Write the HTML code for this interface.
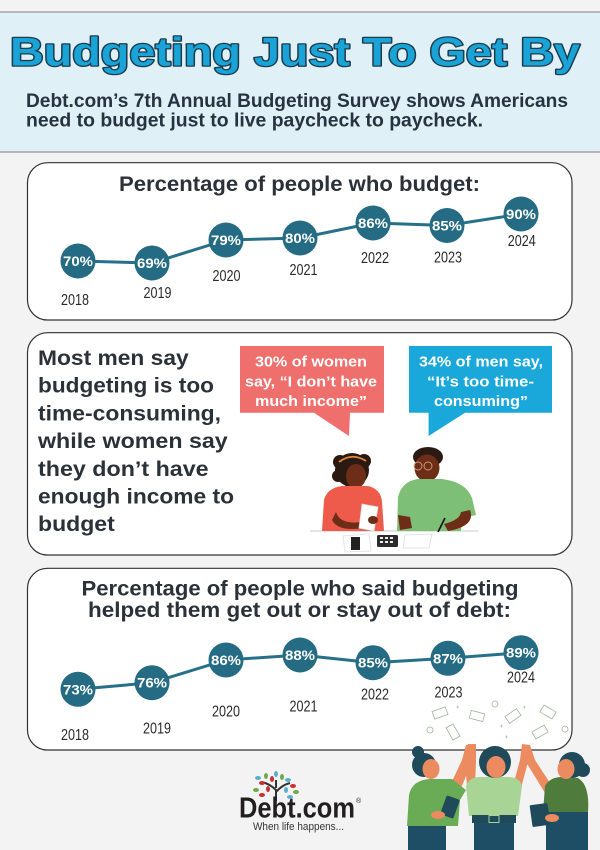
<!DOCTYPE html>
<html><head><meta charset="utf-8"><style>
html,body{margin:0;padding:0;background:#f3f3f3;}
svg{display:block;}
text{font-family:"Liberation Sans",sans-serif;}
</style></head><body>
<svg width="600" height="850" viewBox="0 0 600 850" xmlns="http://www.w3.org/2000/svg">
<rect x="0" y="0" width="600" height="850" fill="#f3f3f3"/>
<!-- header -->
<rect x="0" y="12" width="600" height="140" fill="#dff0f7"/>
<line x1="0" y1="12" x2="600" y2="12" stroke="#a3a3a3" stroke-width="1.5"/>
<line x1="0" y1="152" x2="600" y2="152" stroke="#a3a3a3" stroke-width="1.5"/>
<text x="10" y="65.5" font-size="40" font-weight="bold" textLength="570" lengthAdjust="spacingAndGlyphs" fill="#1aa3d6" stroke="#1c3b4c" stroke-width="2.6" stroke-linejoin="round" paint-order="stroke">Budgeting Just To Get By</text>
<text x="26" y="107" font-size="19" font-weight="bold" fill="#263340" textLength="542" lengthAdjust="spacingAndGlyphs">Debt.com’s 7th Annual Budgeting Survey shows Americans</text>
<text x="26" y="126.5" font-size="19" font-weight="bold" fill="#263340" textLength="457" lengthAdjust="spacingAndGlyphs">need to budget just to live paycheck to paycheck.</text>

<!-- card 1 -->
<rect x="27.5" y="162.7" width="544.5" height="157.3" rx="20" fill="#fff" stroke="#333" stroke-width="1.2"/>
<text x="119" y="191" font-size="21" font-weight="bold" fill="#2b3138" textLength="361" lengthAdjust="spacingAndGlyphs">Percentage of people who budget:</text>
<polyline points="78,261 152,263 226,240 300,238 373,223 447,225.5 521,214" fill="none" stroke="#26708a" stroke-width="3"/>
<g fill="#246b83">
<circle cx="78" cy="261" r="17.5"/><circle cx="152" cy="263" r="17.5"/><circle cx="226" cy="240" r="17.5"/><circle cx="300" cy="238" r="17.5"/><circle cx="373" cy="223" r="17.5"/><circle cx="447" cy="225.5" r="17.5"/><circle cx="521" cy="214" r="17.5"/>
</g>
<g fill="#fff" font-size="14" font-weight="bold" text-anchor="middle">
<text x="78" y="266" textLength="30" lengthAdjust="spacingAndGlyphs">70%</text>
<text x="152" y="268" textLength="30" lengthAdjust="spacingAndGlyphs">69%</text>
<text x="226" y="245" textLength="30" lengthAdjust="spacingAndGlyphs">79%</text>
<text x="300" y="243" textLength="30" lengthAdjust="spacingAndGlyphs">80%</text>
<text x="373" y="228" textLength="30" lengthAdjust="spacingAndGlyphs">86%</text>
<text x="447" y="230.5" textLength="30" lengthAdjust="spacingAndGlyphs">85%</text>
<text x="521" y="219" textLength="30" lengthAdjust="spacingAndGlyphs">90%</text>
</g>
<g fill="#2a2a2a" font-size="16" text-anchor="middle">
<text x="75" y="305" textLength="28" lengthAdjust="spacingAndGlyphs">2018</text>
<text x="157.5" y="298" textLength="28" lengthAdjust="spacingAndGlyphs">2019</text>
<text x="226.5" y="281" textLength="28" lengthAdjust="spacingAndGlyphs">2020</text>
<text x="303.5" y="275" textLength="28" lengthAdjust="spacingAndGlyphs">2021</text>
<text x="375" y="263" textLength="28" lengthAdjust="spacingAndGlyphs">2022</text>
<text x="448" y="262.7" textLength="28" lengthAdjust="spacingAndGlyphs">2023</text>
<text x="521.7" y="246" textLength="28" lengthAdjust="spacingAndGlyphs">2024</text>
</g>

<!-- card 2 -->
<rect x="27.5" y="332.7" width="544.5" height="222.3" rx="20" fill="#fff" stroke="#333" stroke-width="1.2"/>
<g fill="#2b3138" font-size="21" font-weight="bold">
<text x="38" y="365" textLength="150.7" lengthAdjust="spacingAndGlyphs">Most men say</text>
<text x="38" y="392.7" textLength="176" lengthAdjust="spacingAndGlyphs">budgeting is too</text>
<text x="38" y="420.4" textLength="183" lengthAdjust="spacingAndGlyphs">time-consuming,</text>
<text x="38" y="448" textLength="189.7" lengthAdjust="spacingAndGlyphs">while women say</text>
<text x="38" y="475.8" textLength="170.6" lengthAdjust="spacingAndGlyphs">they don’t have</text>
<text x="38" y="503.5" textLength="196" lengthAdjust="spacingAndGlyphs">enough income to</text>
<text x="38" y="531.2" textLength="76.8" lengthAdjust="spacingAndGlyphs">budget</text>
</g>
<!-- bubbles -->
<path d="M240,346 H384 V412.7 H350 L349,436 L314,412.7 H240 Z" fill="#ee6f6c"/>
<path d="M409,346 H552 V412.7 H465 L428.6,436 V412.7 H409 Z" fill="#1aa8da"/>
<g fill="#fff" font-size="15" font-weight="bold" text-anchor="middle">
<text x="311" y="366.5" textLength="112" lengthAdjust="spacingAndGlyphs">30% of women</text>
<text x="311" y="386.5" textLength="132" lengthAdjust="spacingAndGlyphs">say, “I don’t have</text>
<text x="311" y="406" textLength="112" lengthAdjust="spacingAndGlyphs">much income”</text>
<text x="481" y="366.5" textLength="124" lengthAdjust="spacingAndGlyphs">34% of men say,</text>
<text x="480.5" y="386.5" textLength="107" lengthAdjust="spacingAndGlyphs">“It’s too time-</text>
<text x="481" y="406" textLength="94" lengthAdjust="spacingAndGlyphs">consuming”</text>
</g>
<!-- couple -->
<line x1="310" y1="531" x2="478" y2="531" stroke="#dcdcdc" stroke-width="1.5"/>
<!-- woman -->
<circle cx="352" cy="470" r="17" fill="#2b1a12"/>
<circle cx="340" cy="462" r="7" fill="#2b1a12"/><circle cx="364" cy="461" r="7" fill="#2b1a12"/><circle cx="338" cy="476" r="6" fill="#2b1a12"/>
<path d="M339,462 Q352,452 366,461" fill="none" stroke="#e08a3a" stroke-width="1.8"/>
<rect x="349" y="482" width="10" height="8" fill="#6e2d17"/>
<ellipse cx="356" cy="476" rx="10" ry="12" fill="#6e2d17"/>
<path d="M322,531 L324,500 Q327,488 342,486 L368,486 Q381,489 382,502 L384,531 Z" fill="#ee5b4b"/>
<path d="M336,512 Q340,525 362,522 L364,528 Q338,532 332,520 Z" fill="#6e2d17"/>
<path d="M362,504 L378,507 L374,531 L359,528 Z" fill="#fff" stroke="#ddd" stroke-width="0.8"/>
<ellipse cx="373" cy="520" rx="5" ry="4" fill="#6e2d17"/>
<!-- man -->
<ellipse cx="428" cy="457" rx="15" ry="10" fill="#2b1a12"/>
<rect x="421" y="474" width="12" height="8" fill="#6e2d17"/>
<ellipse cx="427" cy="468" rx="12.5" ry="13.5" fill="#6e2d17"/>
<circle cx="418" cy="466" r="4" fill="none" stroke="#c9a078" stroke-width="0.9"/>
<circle cx="428" cy="466" r="4" fill="none" stroke="#c9a078" stroke-width="0.9"/>
<path d="M397,531 L398,497 Q402,481 418,479 L442,479 Q466,482 472,498 L476,515 L462,518 L461,531 Z" fill="#7dbf76"/>
<path d="M398,515 L410,517 L412,528 L400,530 Z" fill="#6e2d17"/>
<path d="M470,510 Q476,526 448,531 L444,524 Q460,520 461,512 Z" fill="#6e2d17"/>
<line x1="438" y1="532" x2="445" y2="518" stroke="#111" stroke-width="1.6"/>
<!-- table items -->
<path d="M343,536 L369,534 L371,551 L345,552 Z" fill="#fff" stroke="#ddd" stroke-width="0.8"/>
<rect x="351" y="537" width="9" height="13" fill="#222"/>
<rect x="377" y="535" width="21" height="12" rx="1.5" fill="#2b2b2b"/>
<g fill="#eee"><rect x="380" y="537" width="3" height="2"/><rect x="385" y="537" width="3" height="2"/><rect x="390" y="537" width="3" height="2"/><rect x="380" y="541" width="3" height="2"/><rect x="385" y="541" width="3" height="2"/><rect x="390" y="541" width="3" height="2"/></g>
<path d="M405,535 L432,534 L429,548 L403,548 Z" fill="#fff" stroke="#ddd" stroke-width="0.8"/>

<!-- card 3 -->
<rect x="27.5" y="568.3" width="544.5" height="181.7" rx="20" fill="#fff" stroke="#333" stroke-width="1.2"/>
<text x="81.5" y="595.5" font-size="21" font-weight="bold" fill="#2b3138" textLength="437" lengthAdjust="spacingAndGlyphs">Percentage of people who said budgeting</text>
<text x="88" y="617" font-size="21" font-weight="bold" fill="#2b3138" textLength="423" lengthAdjust="spacingAndGlyphs">helped them get out or stay out of debt:</text>
<polyline points="78,689.3 152,682.7 226,660 300,655 373,662.7 448,658.3 521,652.7" fill="none" stroke="#26708a" stroke-width="3"/>
<g fill="#246b83">
<circle cx="78" cy="689.3" r="17.5"/><circle cx="152" cy="682.7" r="17.5"/><circle cx="226" cy="660" r="17.5"/><circle cx="300" cy="655" r="17.5"/><circle cx="373" cy="662.7" r="17.5"/><circle cx="448" cy="658.3" r="17.5"/><circle cx="521" cy="652.7" r="17.5"/>
</g>
<g fill="#fff" font-size="14" font-weight="bold" text-anchor="middle">
<text x="78" y="694.3" textLength="30" lengthAdjust="spacingAndGlyphs">73%</text>
<text x="152" y="687.7" textLength="30" lengthAdjust="spacingAndGlyphs">76%</text>
<text x="226" y="665" textLength="30" lengthAdjust="spacingAndGlyphs">86%</text>
<text x="300" y="660" textLength="30" lengthAdjust="spacingAndGlyphs">88%</text>
<text x="373" y="667.7" textLength="30" lengthAdjust="spacingAndGlyphs">85%</text>
<text x="448" y="663.3" textLength="30" lengthAdjust="spacingAndGlyphs">87%</text>
<text x="521" y="657.7" textLength="30" lengthAdjust="spacingAndGlyphs">89%</text>
</g>
<g fill="#2a2a2a" font-size="16" text-anchor="middle">
<text x="75" y="740" textLength="28" lengthAdjust="spacingAndGlyphs">2018</text>
<text x="157" y="733.7" textLength="28" lengthAdjust="spacingAndGlyphs">2019</text>
<text x="226" y="716.7" textLength="28" lengthAdjust="spacingAndGlyphs">2020</text>
<text x="303.5" y="711.7" textLength="28" lengthAdjust="spacingAndGlyphs">2021</text>
<text x="375" y="699.3" textLength="28" lengthAdjust="spacingAndGlyphs">2022</text>
<text x="448.5" y="697.7" textLength="28" lengthAdjust="spacingAndGlyphs">2023</text>
<text x="521" y="682.7" textLength="28" lengthAdjust="spacingAndGlyphs">2024</text>
</g>
<!-- money -->
<g fill="none" stroke="#9fb39a" stroke-width="0.8">
<rect x="433" y="709" width="14" height="8" transform="rotate(-20 440 713)"/>
<rect x="470" y="712" width="14" height="8" transform="rotate(15 477 716)"/>
<rect x="446" y="728" width="14" height="8" transform="rotate(60 453 732)"/>
<rect x="506" y="712" width="14" height="8" transform="rotate(-35 513 716)"/>
<rect x="541" y="708" width="14" height="8" transform="rotate(30 548 712)"/>
<rect x="533" y="728" width="14" height="8" transform="rotate(-30 540 732)"/>
<circle cx="430" cy="730" r="3"/><circle cx="495" cy="704" r="3"/><circle cx="565" cy="729" r="3"/>
</g>
<g stroke="#aaa" stroke-width="0.6">
<path d="M456,707 h3 M457.5,705.5 v3"/><path d="M500,726 h3 M501.5,724.5 v3"/><path d="M523,707 h3 M524.5,705.5 v3"/><path d="M505,737 h3 M506.5,735.5 v3"/>
</g>

<!-- women at bottom -->
<g>
<!-- left -->
<rect x="408" y="822" width="38" height="30" fill="#1d4e66"/>
<path d="M448,790 L462,760 L466,745 L474,744 L472,762 L458,795 Z" fill="#ec8a60"/>
<path d="M407,826 L409,795 Q412,780 430,779 L452,779 L466,790 L460,800 L458,826 Z" fill="#6aab55"/>
<rect x="443" y="797" width="14" height="20" rx="1.5" fill="#1e4a5a" transform="rotate(20 450 807)"/>
<ellipse cx="438" cy="815" rx="7" ry="4" fill="#ec8a60"/>
<circle cx="418" cy="752" r="6" fill="#1e4a5a"/>
<circle cx="424" cy="765" r="12" fill="#1e4a5a"/>
<ellipse cx="431" cy="769" rx="8.5" ry="10" fill="#ec8a60"/>
<!-- middle -->
<rect x="474" y="822" width="40" height="30" fill="#1d4e66"/>
<path d="M467,786 L465,760 L468,744 L476,744 L476,762 L475,786 Z" fill="#ec8a60"/>
<path d="M513,786 L520,760 L522,744 L530,745 L528,762 L521,788 Z" fill="#ec8a60"/>
<path d="M469,816 L466,786 Q469,777 480,777 L510,777 Q520,778 522,786 L518,816 Z" fill="#a8d496"/>
<rect x="472" y="815" width="44" height="8" fill="#1e4a5a"/>
<rect x="489" y="815.5" width="10" height="7" fill="none" stroke="#a8d496" stroke-width="1"/>
<circle cx="495" cy="762" r="16" fill="#1e4a5a"/>
<ellipse cx="496" cy="767" rx="9.5" ry="11" fill="#ec8a60"/>
<!-- right -->
<rect x="546" y="812" width="42" height="40" fill="#1d4e66"/>
<path d="M552,786 L535,760 L530,745 L523,746 L526,762 L545,793 Z" fill="#ec8a60"/>
<path d="M543,812 L545,786 Q550,777 562,777 L578,778 Q590,785 588,812 Z" fill="#4f7b3c"/>
<rect x="531" y="804" width="18" height="22" rx="1.5" fill="#1e4a5a" transform="rotate(-8 540 815)"/>
<ellipse cx="552" cy="818" rx="7" ry="4" fill="#ec8a60"/>
<circle cx="583" cy="770" r="7" fill="#1e4a5a"/>
<circle cx="572" cy="765" r="13" fill="#1e4a5a"/>
<ellipse cx="566" cy="769" rx="8.5" ry="10" fill="#ec8a60"/>
</g>

<!-- logo -->
<g>
<path d="M276,801 L276,790 Q270,784 262,782 M276,792 Q282,785 290,783 M276,788 L276,780" fill="none" stroke="#333" stroke-width="2"/>
<g>
<ellipse cx="256" cy="790" rx="3" ry="2" fill="#6aab45"/>
<ellipse cx="262" cy="783" rx="3" ry="2" fill="#c8312f"/>
<ellipse cx="258" cy="778" rx="3" ry="2" fill="#5aaed0"/>
<ellipse cx="266" cy="776" rx="2" ry="3" fill="#6aab45"/>
<ellipse cx="272" cy="779" rx="2" ry="3" fill="#c8312f"/>
<ellipse cx="276" cy="774" rx="2" ry="3" fill="#5aaed0"/>
<ellipse cx="282" cy="777" rx="2" ry="3" fill="#6aab45"/>
<ellipse cx="288" cy="780" rx="3" ry="2" fill="#5aaed0"/>
<ellipse cx="293" cy="786" rx="3" ry="2" fill="#c8312f"/>
<ellipse cx="296" cy="792" rx="3" ry="2" fill="#6aab45"/>
<ellipse cx="268" cy="789" rx="2" ry="3" fill="#c8312f"/>
<ellipse cx="286" cy="790" rx="2" ry="3" fill="#5aaed0"/>
<ellipse cx="262" cy="795" rx="3" ry="2" fill="#c8312f"/>
<ellipse cx="290" cy="797" rx="3" ry="2" fill="#5aaed0"/>
</g>
<text x="239" y="817.7" font-size="29" font-weight="bold" fill="#231f20" textLength="116" lengthAdjust="spacingAndGlyphs">Debt.com</text>
<text x="356" y="803" font-size="7" fill="#231f20">®</text>
<text x="253" y="830" font-size="11" fill="#333" textLength="91" lengthAdjust="spacingAndGlyphs">When life happens...</text>
</g>
</svg>
</body></html>
